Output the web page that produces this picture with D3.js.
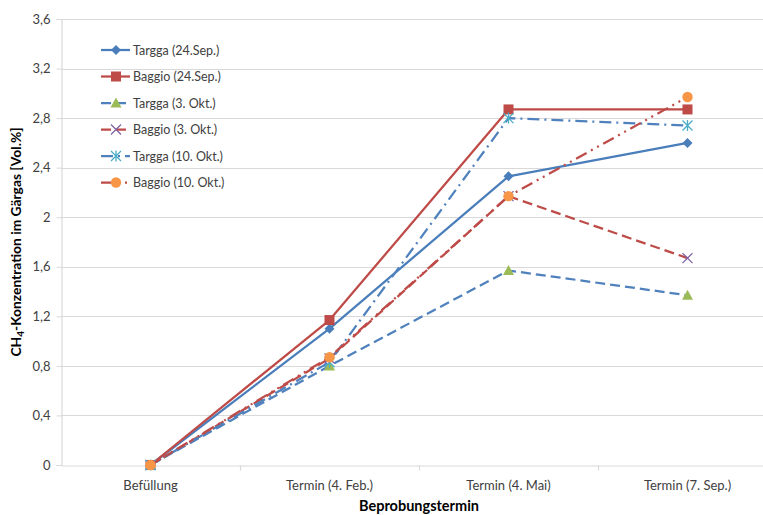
<!DOCTYPE html>
<html>
<head>
<meta charset="utf-8">
<script src="https://cdn.jsdelivr.net/npm/d3@7"></script>
<style>
  html, body { margin: 0; padding: 0; background: #fff; overflow: hidden; }
  svg { display: block; font-family: Lato, "Open Sans", sans-serif; }
</style>
</head>
<body>
<svg id="chart" width="763" height="515"></svg>
<script>
// Sampling dates (x categories)
const termine = ["Befüllung", "Termin (4. Feb.)", "Termin (4. Mai)", "Termin (7. Sep.)"];

// CH4 content per series, one value per sampling date [Vol.%]
const targga24Sep = [0, 1.10, 2.33, 2.60];
const baggio24Sep = [0, 1.17, 2.87, 2.87];
const targga3Okt  = [0, 0.80, 1.57, 1.37];
const baggio3Okt  = [0, 0.86, 2.17, 1.67];
const targga10Okt = [0, 0.83, 2.80, 2.74];
const baggio10Okt = [0, 0.87, 2.17, 2.97];

const seriesNames = ["Targga (24.Sep.)", "Baggio (24.Sep.)", "Targga (3. Okt.)",
                     "Baggio (3. Okt.)", "Targga (10. Okt.)", "Baggio (10. Okt.)"];
const yTicks = [0, 0.4, 0.8, 1.2, 1.6, 2, 2.4, 2.8, 3.2, 3.6];

// Line / marker styling per series
const styles = [
  { line: "#4A7EBB", dash: null,              marker: "diamond",  fill: "#4A7EBB" },
  { line: "#BE4B48", dash: null,              marker: "square",   fill: "#BE4B48" },
  { line: "#4F81BD", dash: "10,5",            marker: "triangle", fill: "#9BBB59" },
  { line: "#BE4B48", dash: "10,5",            marker: "x",        fill: "#8064A2" },
  { line: "#4F81BD", dash: "12,5,2,5",        marker: "star",     fill: "#4BACC6" },
  { line: "#BE4B48", dash: "12,5,2,5,2,5",    marker: "circle",   fill: "#F79646" }
];

const data = [targga24Sep, baggio24Sep, targga3Okt, baggio3Okt, targga10Okt, baggio10Okt]
  .map((vals, i) => ({ name: seriesNames[i], values: vals, style: styles[i] }));

const svg = d3.select("#chart");
const plot = { left: 61, right: 777, top: 19, bottom: 465 };

const x = d3.scaleBand().domain(termine).range([plot.left, plot.right]).padding(0);
const y = d3.scaleLinear().domain([0, 3.6]).range([plot.bottom, plot.top]);
const fmt = v => (Number.isInteger(v) ? String(v) : d3.format(".1f")(v).replace(".", ","));

// Horizontal gridlines
svg.append("g")
  .selectAll("line")
  .data(yTicks.filter(t => t > 0))
  .join("line")
  .attr("x1", plot.left).attr("x2", plot.right)
  .attr("y1", d => Math.round(y(d)) + 0.5).attr("y2", d => Math.round(y(d)) + 0.5)
  .attr("stroke", "#D9D9D9").attr("stroke-width", 1.2);

// Y axis
const yAxis = svg.append("g")
  .attr("transform", `translate(${plot.left + 0.5},0)`)
  .call(d3.axisLeft(y).tickValues(yTicks).tickFormat(fmt).tickSize(5).tickPadding(6));
yAxis.select(".domain").attr("stroke", "#D9D9D9").attr("stroke-width", 1.2);
yAxis.selectAll(".tick line").attr("stroke", "#D9D9D9");
yAxis.selectAll(".tick text").attr("fill", "#404040").attr("font-size", 13)
  .attr("font-family", "Lato, sans-serif");

// X axis with ticks between categories
const xAxis = svg.append("g")
  .attr("transform", `translate(0,${Math.round(plot.bottom) + 0.5})`)
  .call(d3.axisBottom(x).tickSize(0).tickPadding(15));
xAxis.select(".domain").attr("stroke", "#D9D9D9").attr("stroke-width", 1.2);
xAxis.selectAll(".tick text").attr("fill", "#404040").attr("font-size", 13)
  .attr("font-family", "Lato, sans-serif");
xAxis.append("g")
  .selectAll("line")
  .data(termine.slice(1))
  .join("line")
  .attr("x1", d => Math.round(x(d)) + 0.5).attr("x2", d => Math.round(x(d)) + 0.5)
  .attr("y1", 0).attr("y2", 5)
  .attr("stroke", "#D9D9D9").attr("stroke-width", 1.2);

// Axis titles
svg.append("text")
  .attr("x", (plot.left + plot.right) / 2).attr("y", 511)
  .attr("text-anchor", "middle").attr("font-weight", "bold").attr("font-size", 14.5)
  .attr("fill", "#000").text("Beprobungstermin");

const yTitle = svg.append("text")
  .attr("transform", `translate(21,${(plot.top + plot.bottom) / 2}) rotate(-90)`)
  .attr("text-anchor", "middle").attr("font-weight", "bold").attr("font-size", 13.8)
  .attr("fill", "#000");
yTitle.append("tspan").text("CH");
yTitle.append("tspan").attr("font-size", 10).attr("dy", 3).text("4");
yTitle.append("tspan").attr("dy", -3).text("-Konzentration im Gärgas [Vol.%]");

// Marker drawing
function drawMarker(g, kind, fill, cx, cy) {
  const m = g.append("g").attr("transform", `translate(${cx},${cy})`);
  if (kind === "diamond") {
    m.append("path").attr("d", "M0,-5L5,0L0,5L-5,0Z").attr("fill", fill);
  } else if (kind === "square") {
    m.append("rect").attr("x", -5).attr("y", -5).attr("width", 10).attr("height", 10).attr("fill", fill);
  } else if (kind === "triangle") {
    m.append("path").attr("d", "M0,-5.5L5.5,4.5L-5.5,4.5Z").attr("fill", fill);
  } else if (kind === "x") {
    m.append("path").attr("d", "M-5,-5L5,5M-5,5L5,-5").attr("stroke", fill).attr("stroke-width", 1.3);
  } else if (kind === "star") {
    m.append("path").attr("d", "M-5,-5L5,5M-5,5L5,-5M0,-5.5L0,5.5")
      .attr("stroke", fill).attr("stroke-width", 1.3);
  } else if (kind === "circle") {
    m.append("circle").attr("r", 5.2).attr("fill", fill);
  }
}

const cx = d => x(d) + x.bandwidth() / 2;
const line = d3.line().x((v, i) => cx(termine[i])).y(v => y(v));

// Series lines, then markers
const seriesG = svg.append("g");
data.forEach(s => {
  const g = seriesG.append("g");
  g.append("path")
    .attr("d", line(s.values))
    .attr("fill", "none")
    .attr("stroke", s.style.line)
    .attr("stroke-width", 2.25)
    .attr("stroke-linejoin", "round")
    .attr("stroke-dasharray", s.style.dash);
  s.values.forEach((v, i) => drawMarker(g, s.style.marker, s.style.fill, cx(termine[i]), y(v)));
});

// Legend
const legend = svg.append("g");
data.forEach((s, i) => {
  const ly = 50 + i * 26.5;
  const row = legend.append("g");
  row.append("line")
    .attr("x1", 101).attr("x2", 130).attr("y1", ly).attr("y2", ly)
    .attr("stroke", s.style.line).attr("stroke-width", 2.25)
    .attr("stroke-dasharray", s.style.dash);
  drawMarker(row, s.style.marker, s.style.fill, 116, ly);
  row.append("text")
    .attr("x", 133).attr("y", ly + 4.5)
    .attr("font-size", 12.5).attr("fill", "#404040")
    .text(s.name);
});
</script>
</body>
</html>
